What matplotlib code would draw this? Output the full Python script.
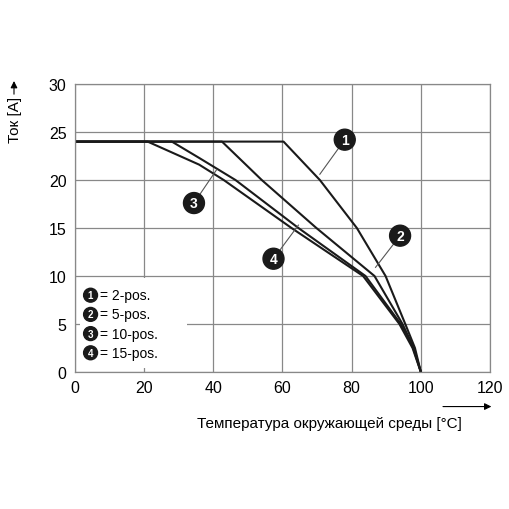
import matplotlib.pyplot as plt

plt.rcParams["font.family"] = ["Liberation Sans", "DejaVu Sans"]

# curves (temperature C, current A)
t1 = [0, 60.3, 70.8, 81.5, 89.8, 95.5, 98.3, 100]
i1 = [24, 24, 20, 15, 10, 5, 2.5, 0]
t2 = [0, 42.5, 54, 69.8, 86.6, 94.7, 98, 100]
i2 = [24, 24, 20, 15, 10, 5, 2.5, 0]
t3 = [0, 28, 35.9, 46.4, 64.6, 84, 94.2, 97.8, 100]
i3 = [24, 24, 22.3, 20, 15, 10, 5, 2.5, 0]
t4 = [0, 21, 35.9, 43, 62.6, 83.3, 93.8, 97.6, 100]
i4 = [24, 24, 21.6, 20, 15, 10, 5, 2.5, 0]
legend_labels = ["2-pos.", "5-pos.", "10-pos.", "15-pos."]

fig = plt.figure(figsize=(5.1, 5.1), dpi=100)
ax = fig.add_axes([75 / 510, 137 / 510, 415 / 510, 288 / 510])
for t, i in [(t1, i1), (t2, i2), (t3, i3), (t4, i4)]:
    ax.plot(t, i, color="#1a1a1a", lw=1.5)

ax.set_xlim(0, 120)
ax.set_ylim(0, 30)
ax.set_xticks(range(0, 121, 20))
ax.set_yticks(range(0, 31, 5))
ax.grid(True, color="#888888", lw=0.9)
ax.tick_params(length=0, labelsize=11.5, pad=6)
for s in ax.spines.values():
    s.set_color("#888888")
    s.set_linewidth(0.9)

def badge(x, y, n, px, py):
    ax.plot([x, px], [y, py], color="#555555", lw=0.8)
    ax.text(x, y, str(n), ha="center", va="center", color="white", fontsize=10,
            fontweight="bold",
            bbox=dict(boxstyle="circle,pad=0.25", fc="#1a1a1a", ec="#1a1a1a"))

badge(78, 24.2, 1, 70.8, 20.6)
badge(94, 14.2, 2, 86.9, 10.9)
badge(34.4, 17.6, 3, 41, 21.1)
badge(57.4, 11.8, 4, 64.6, 15.3)

# legend box
ax.add_patch(plt.Rectangle((1.5, 0.4), 31, 9.4, fc="white", ec="none", zorder=3))
for k, lab in enumerate(legend_labels):
    y = 8.0 - k * 2.0
    ax.text(4.5, y, str(k + 1), ha="center", va="center", color="white", fontsize=7,
            fontweight="bold", zorder=4,
            bbox=dict(boxstyle="circle,pad=0.2", fc="#1a1a1a", ec="#1a1a1a"))
    ax.text(7.3, y, "= " + lab, ha="left", va="center", fontsize=10, zorder=4)

fig.text(15 / 510, 1 - 120 / 510, "Ток [A]", rotation=90, ha="center", va="center", fontsize=11)
ax.annotate("", xy=(-0.147, 1.02), xytext=(-0.147, 0.955), xycoords="axes fraction",
            arrowprops=dict(arrowstyle="-|>", color="black", lw=0.8), annotation_clip=False)
fig.text(462 / 510, 1 - 424 / 510, "Температура окружающей среды [°C]", ha="right",
         va="center", fontsize=11)
ax.annotate("", xy=(1.01, -0.12), xytext=(0.88, -0.12), xycoords="axes fraction",
            arrowprops=dict(arrowstyle="-|>", color="black", lw=0.8), annotation_clip=False)

fig.savefig("out.png", dpi=100)
